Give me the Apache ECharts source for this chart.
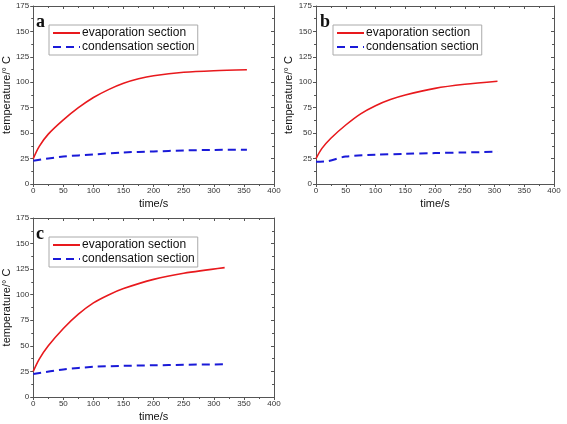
<!DOCTYPE html>
<html><head><meta charset="utf-8">
<script src="https://cdn.jsdelivr.net/npm/echarts@6/dist/echarts.min.js"></script>
<style>html,body{margin:0;padding:0;background:#fff}#c{width:567px;height:424px}</style>
</head><body><div id="c"></div>
<script>
// Panel a
const aEvapT = [0, 10, 25, 50, 75, 100, 125, 150, 175, 200, 250, 300, 355];
const aEvapV = [25, 37, 49, 63, 75, 85, 92.8, 99, 103.4, 106.4, 109.8, 111.4, 112.3];
const aCondT = [0, 50, 100, 150, 200, 250, 300, 355];
const aCondV = [22.8, 27, 29, 31, 32, 33, 33.5, 33.7];
// Panel b
const bEvapT = [0, 10, 25, 50, 75, 100, 125, 150, 200, 250, 305];
const bEvapV = [25, 35, 45, 58, 69, 77, 83, 87.5, 94, 98, 101];
const bCondT = [0, 20, 50, 100, 150, 200, 250, 305];
const bCondV = [21.8, 22.5, 27, 28.7, 29.7, 30.4, 31, 31.7];
// Panel c
const cEvapT = [0, 10, 25, 50, 75, 100, 125, 150, 200, 250, 318];
const cEvapV = [25, 37, 50, 67, 81, 92, 99.8, 106, 115, 121, 126.5];
const cCondT = [0, 50, 100, 150, 200, 250, 318];
const cCondV = [22.5, 27, 29.5, 30.5, 31, 31.5, 32];

const panelLabels = ['a', 'b', 'c'];
const seriesNames = ['evaporation section', 'condensation section'];
const xTitle = 'time/s';
const yTitle = 'temperature/\u00b0 C';

const zip = (t, v) => t.map((x, i) => [x, v[i]]);
const panels = [
  {evap: zip(aEvapT, aEvapV), cond: zip(aCondT, aCondV)},
  {evap: zip(bEvapT, bEvapV), cond: zip(bCondT, bCondV)},
  {evap: zip(cEvapT, cEvapV), cond: zip(cCondT, cCondV)}
];
const grids = [
  {left: 32, top: 6, width: 242, height: 178},
  {left: 316, top: 6, width: 238, height: 178},
  {left: 32, top: 218, width: 242, height: 179}
];
const axisColor = '#555';
const grid = [], xAxis = [], yAxis = [], series = [], legend = [], graphic = [];
grids.forEach((g, i) => {
  grid.push(Object.assign({}, g));
  xAxis.push({type: 'value', gridIndex: i, min: 0, max: 400, interval: 50, position: 'bottom',
    name: xTitle, nameLocation: 'middle', nameGap: 14,
    nameTextStyle: {fontFamily: 'Liberation Sans', fontSize: 11, color: '#111'},
    axisLine: {onZero: false, lineStyle: {color: axisColor, width: 1}},
    axisTick: {inside: false, length: 3, lineStyle: {color: axisColor}},
    minorTick: {show: true, splitNumber: 2, length: 2, lineStyle: {color: axisColor}},
    axisLabel: {fontFamily: 'Liberation Sans', fontSize: 8, color: '#333', margin: 3},
    splitLine: {show: false}});
  xAxis.push({type: 'value', gridIndex: i, min: 0, max: 400, interval: 50, position: 'top',
    axisLine: {onZero: false, lineStyle: {color: axisColor, width: 1}},
    axisTick: {inside: true, length: 3, lineStyle: {color: axisColor}},
    minorTick: {show: true, splitNumber: 2, length: 2, lineStyle: {color: axisColor}},
    axisLabel: {show: false}, splitLine: {show: false}});
  yAxis.push({type: 'value', gridIndex: i, min: 0, max: 175, interval: 25, position: 'left',
    name: yTitle, nameLocation: 'middle', nameGap: 19,
    nameTextStyle: {fontFamily: 'Liberation Sans', fontSize: 11, color: '#111'},
    axisLine: {show: true, onZero: false, lineStyle: {color: axisColor, width: 1}},
    axisTick: {show: true, inside: false, length: 3, lineStyle: {color: axisColor}},
    minorTick: {show: true, splitNumber: 2, length: 2, lineStyle: {color: axisColor}},
    axisLabel: {fontFamily: 'Liberation Sans', fontSize: 8, color: '#333', margin: 4},
    splitLine: {show: false}});
  yAxis.push({type: 'value', gridIndex: i, min: 0, max: 175, interval: 25, position: 'right',
    axisLine: {show: true, onZero: false, lineStyle: {color: axisColor, width: 1}},
    axisTick: {show: true, inside: true, length: 3, lineStyle: {color: axisColor}},
    minorTick: {show: true, splitNumber: 2, length: 2, lineStyle: {color: axisColor}},
    axisLabel: {show: false}, splitLine: {show: false}});
  series.push({type: 'line', name: seriesNames[0], xAxisIndex: 2 * i, yAxisIndex: 2 * i,
    data: panels[i].evap, smooth: 0.3, showSymbol: false, symbol: 'none',
    lineStyle: {color: '#e8191d', width: 1.6}, itemStyle: {color: '#e8191d'}});
  series.push({type: 'line', name: seriesNames[1], xAxisIndex: 2 * i, yAxisIndex: 2 * i,
    data: panels[i].cond, smooth: 0.3, showSymbol: false, symbol: 'none',
    lineStyle: {color: '#1a1ad8', width: 2, type: [8, 5]}, itemStyle: {color: '#1a1ad8'}});
  legend.push({orient: 'vertical', left: g.left + 17, top: g.top + 19,
    data: seriesNames, itemWidth: 27, itemHeight: 12, itemGap: 2,
    itemStyle: {opacity: 0},
    padding: [2, 3, 2, 3], borderColor: '#aaa', borderWidth: 1, selectedMode: false,
    textStyle: {fontFamily: 'Liberation Sans', fontSize: 12, color: '#111', padding: [0, 0, 0, -3]}});
  graphic.push({type: 'text', left: g.left + 4, top: g.top + 7,
    style: {text: panelLabels[i], font: 'bold 18px "Liberation Serif"', fill: '#111'}});
});
const chart = echarts.init(document.getElementById('c'), null, {renderer: 'canvas'});
chart.setOption({animation: false, grid, xAxis, yAxis, series, legend, graphic});
</script></body></html>
